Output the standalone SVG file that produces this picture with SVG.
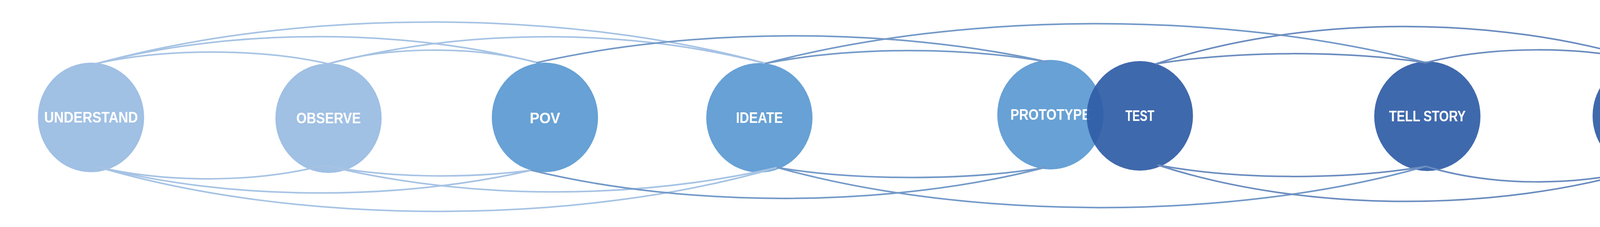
<svg xmlns="http://www.w3.org/2000/svg" width="4449" height="580" viewBox="0 0 4449 580">
<style>
.c{fill:none;stroke-width:4;stroke-linecap:round}
.l{stroke:#a6c3e4}
.m{stroke:#7399c8}
.d{stroke:#6b8cbf}
.t{font-family:"Liberation Sans",Arial,sans-serif;font-weight:bold;font-size:38px;fill:#fff;text-anchor:middle}
.n1{fill:#a0c0e4}
.n2{fill:#67a1d5}
.n3{fill:#2f5ca6;fill-opacity:0.92}
</style>
<rect width="4449" height="580" fill="#fff"/>
<g id="nodes">
<g id="understand"><ellipse class="n1" cx="233" cy="300" rx="136" ry="140"/><text class="t" x="233" y="313" textLength="240" lengthAdjust="spacingAndGlyphs">UNDERSTAND</text></g>
<g id="observe"><ellipse class="n1" cx="841" cy="302" rx="136" ry="140"/><text class="t" x="841" y="315" textLength="165" lengthAdjust="spacingAndGlyphs">OBSERVE</text></g>
<g id="pov"><ellipse class="n2" cx="1395" cy="300" rx="136" ry="140"/><text class="t" x="1395" y="315" textLength="78" lengthAdjust="spacingAndGlyphs">POV</text></g>
<g id="ideate"><ellipse class="n2" cx="1944" cy="301" rx="136" ry="140"/><text class="t" x="1944" y="314" textLength="120" lengthAdjust="spacingAndGlyphs">IDEATE</text></g>
<g id="prototype"><ellipse class="n2" cx="2689" cy="293" rx="136" ry="140"/><text class="t" x="2689" y="306" textLength="205" lengthAdjust="spacingAndGlyphs">PROTOTYPE</text></g>
<g id="test"><ellipse class="n3" cx="2918" cy="296" rx="136" ry="140"/><text class="t" x="2918" y="309" textLength="74" lengthAdjust="spacingAndGlyphs">TEST</text></g>
<g id="tellstory"><ellipse class="n3" cx="3654" cy="297" rx="136" ry="140"/><text class="t" x="3654" y="310" textLength="196" lengthAdjust="spacingAndGlyphs">TELL STORY</text></g>
<g id="present"><ellipse class="n3" cx="4213" cy="296" rx="136" ry="140"/><text class="t" x="4213" y="309" textLength="150" lengthAdjust="spacingAndGlyphs">PRESENT</text></g>
</g>
<g id="connectors">
<path class="c l" d="M245 163 C420 123 665 123 840 163"/>
<path class="c l" d="M245 163 C590 71 1030 71 1375 160"/>
<path class="c l" d="M245 163 C760 21 1445 21 1960 162"/>
<path class="c l" d="M840 163 C1000 117 1215 117 1375 160"/>
<path class="c l" d="M840 163 C1200 71 1600 71 1960 162"/>
<path class="c l" d="M245 425 C420 468 655 468 830 422"/>
<path class="c l" d="M245 425 C590 514 1015 514 1360 435"/>
<path class="c l" d="M245 425 C760 578 1475 578 1990 428"/>
<path class="c l" d="M830 422 C990 456 1200 456 1360 435"/>
<path class="c l" d="M830 422 C1200 512 1620 512 1990 428"/>
<path class="c m" d="M1375 160 C1775 69 2280 69 2680 158"/>
<path class="c m" d="M1960 162 C2180 119 2460 119 2680 158"/>
<path class="c m" d="M1960 162 C2470 27 3140 27 3650 160"/>
<path class="c m" d="M1360 435 C1760 532 2275 532 2675 428"/>
<path class="c m" d="M1990 428 C2190 462 2475 462 2675 428"/>
<path class="c m" d="M1990 428 C2480 565 3160 565 3650 425"/>
<path class="c d" d="M2960 163 C3170 129 3440 129 3650 160"/>
<path class="c d" d="M2960 163 C3340 37 3835 37 4215 157"/>
<path class="c d" d="M3650 160 C3820 117 4045 117 4215 157"/>
<path class="c d" d="M2965 422 C3170 460 3445 460 3650 425"/>
<path class="c d" d="M2965 422 C3340 544 3835 544 4210 430"/>
<path class="c d" d="M3650 425 C3820 477 4040 477 4210 430"/>
</g>
</svg>
